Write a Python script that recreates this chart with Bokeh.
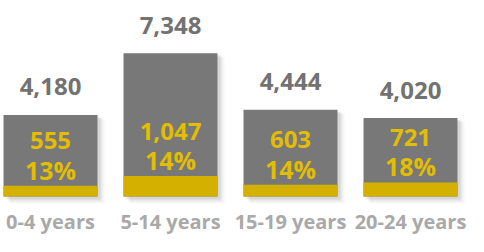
from bokeh.plotting import figure
from bokeh.models import ColumnDataSource, Range1d
from bokeh.core.properties import value
from bokeh.embed import file_html
from bokeh.resources import INLINE

categories = ["0-4 years", "5-14 years", "15-19 years", "20-24 years"]
totals = [4180, 7348, 4444, 4020]
subset = [555, 1047, 603, 721]
shares = [13, 14, 14, 18]

xs = list(range(len(categories)))
src = ColumnDataSource(dict(
    x=xs,
    cat=categories,
    total=totals,
    sub=subset,
    total_lbl=[f"{v:,}" for v in totals],
    sub_lbl=[f"{v:,}" for v in subset],
    pct_lbl=[f"{v}%" for v in shares],
    zero=[0] * len(xs),
))

W, H = 468, 236
X0, X1 = -0.4167, 3.4833
Y0, Y1 = -2051, 10051
p = figure(width=W, height=H, output_backend="svg", toolbar_location=None,
           x_range=Range1d(X0, X1), y_range=Range1d(Y0, Y1),
           x_axis_type=None, y_axis_type=None, min_border=0,
           outline_line_color=None, background_fill_color="white",
           border_fill_color="white")
p.grid.visible = False

BW = 0.783
px_x = (X1 - X0) / W
px_y = (Y1 - Y0) / H

# soft drop shadow
for k, a in [(7, 0.05), (5, 0.08), (3, 0.12)]:
    shx = [x + k * px_x for x in xs]
    p.vbar(x=shx, width=BW, top=[t - k * 0.6 * px_y for t in totals],
           bottom=[-k * px_y for _ in xs], fill_color="#555555",
           fill_alpha=a, line_color=None)

p.vbar(x="x", width=BW, top="total", bottom=0, source=src,
       fill_color="#787878", line_color=None)
p.vbar(x="x", width=BW, top="sub", bottom=0, source=src,
       fill_color="#D4B100", line_color=None)

font = value("Open Sans")
p.text(x="x", y="total", text="total_lbl", source=src, text_font=font,
       text_font_style="bold", text_font_size="24px", text_color="#727272",
       text_align="center", text_baseline="middle", y_offset=-28)
p.text(x="x", y="sub", text="pct_lbl", source=src, text_font=font,
       text_font_style="bold", text_font_size="25px", text_color="#E2BD00",
       text_align="center", text_baseline="middle", y_offset=-16)
p.text(x="x", y="sub", text="sub_lbl", source=src, text_font=font,
       text_font_style="bold", text_font_size="24px", text_color="#E2BD00",
       text_align="center", text_baseline="middle", y_offset=-45)
p.text(x="x", y="zero", text="cat", source=src, text_font=font,
       text_font_style="bold", text_font_size="20px", text_color="#a9a9a9",
       text_align="center", text_baseline="middle", y_offset=25)

open("out.html", "w").write(file_html(p, INLINE))
